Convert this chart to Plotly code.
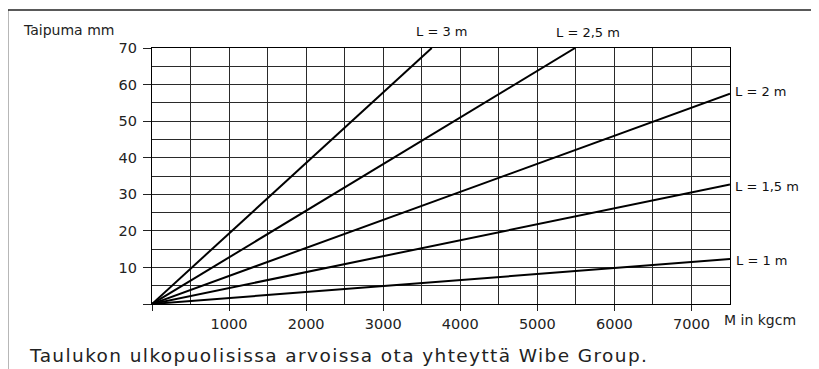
import plotly.graph_objects as go

# ---- data ----
lengths = ["L = 3 m", "L = 2,5 m", "L = 2 m", "L = 1,5 m", "L = 1 m"]
m_start = [0, 0, 0, 0, 0]
m_end = [3630, 5490, 7500, 7500, 7500]          # M in kgcm at line end
defl_start = [0, 0, 0, 0, 0]
defl_end = [70, 70, 57.5, 32.7, 12.3]           # Taipuma mm at line end
x_ticks = [0, 1000, 2000, 3000, 4000, 5000, 6000, 7000]
x_ticktext = ["", "1000", "2000", "3000", "4000", "5000", "6000", "7000"]
y_ticks = [0, 10, 20, 30, 40, 50, 60, 70]
y_ticktext = ["", "10", "20", "30", "40", "50", "60", "70"]
y_title = "Taipuma mm"
x_title = "M in kgcm"
footer = "Taulukon ulkopuolisissa arvoissa ota yhteyttä Wibe Group."

# page has an 8px body margin -> work in shifted pixel coordinates
OFF = 8
W, H = 819 - OFF, 369 - OFF
L, R, T, B = 151.7 - OFF, 730 - OFF, 48 - OFF, 304 - OFF

fig = go.Figure()
for i, name in enumerate(lengths):
    fig.add_trace(go.Scatter(
        x=[m_start[i], m_end[i]], y=[defl_start[i], defl_end[i]],
        mode="lines", line=dict(color="#000000", width=2),
        name=name, showlegend=False, hoverinfo="skip"))

grid = "#2a2a2a"
tick_font = dict(family="DejaVu Sans", size=14.5, color="#222")
fig.update_xaxes(range=[0, 7500], tickvals=x_ticks, ticktext=x_ticktext,
                 showgrid=True, gridcolor=grid, gridwidth=1.2,
                 minor=dict(dtick=500, tick0=0, showgrid=True, gridcolor=grid, gridwidth=1.2),
                 ticks="outside", ticklen=6, tickwidth=1.2, tickcolor="#222",
                 showline=True, linecolor="#000", linewidth=1.3, mirror=True,
                 zeroline=False, tickfont=tick_font)
fig.update_yaxes(range=[0, 70], tickvals=y_ticks, ticktext=y_ticktext,
                 showgrid=True, gridcolor=grid, gridwidth=1.2,
                 minor=dict(dtick=5, tick0=0, showgrid=True, gridcolor=grid, gridwidth=1.2),
                 ticks="outside", ticklen=8, tickwidth=1.2, tickcolor="#222",
                 showline=True, linecolor="#000", linewidth=1.3, mirror=True,
                 zeroline=False, ticklabelstandoff=3, tickfont=tick_font)

def px(x):
    return (x - OFF - L) / (R - L)

def py(y):
    return (B - (y - OFF)) / (B - T)

lab_font = dict(family="DejaVu Sans", size=13, color="#111")
annots = [
    dict(x=3750, y=70, xref="x", yref="y", text=lengths[0], xanchor="center",
         yanchor="middle", yshift=16.5, showarrow=False, font=lab_font),
    dict(x=5660, y=70, xref="x", yref="y", text=lengths[1], xanchor="center",
         yanchor="middle", yshift=16, showarrow=False, font=lab_font),
    dict(x=7500, y=defl_end[2], xref="x", yref="y", text=lengths[2], xanchor="left",
         yanchor="middle", xshift=3, yshift=2, showarrow=False, font=lab_font),
    dict(x=7500, y=defl_end[3], xref="x", yref="y", text=lengths[3], xanchor="left",
         yanchor="middle", xshift=3, yshift=-2, showarrow=False, font=lab_font),
    dict(x=7500, y=defl_end[4], xref="x", yref="y", text=lengths[4], xanchor="left",
         yanchor="middle", xshift=4, yshift=-1.5, showarrow=False, font=lab_font),
    dict(x=px(722), y=py(320), xref="paper", yref="paper", text=x_title,
         xanchor="left", yanchor="middle", showarrow=False,
         font=dict(family="DejaVu Sans", size=14, color="#222")),
    dict(x=px(21), y=py(29.5), xref="paper", yref="paper", text=y_title,
         xanchor="left", yanchor="middle", showarrow=False,
         font=dict(family="DejaVu Sans", size=14, color="#222")),
    dict(x=px(27), y=py(355), xref="paper", yref="paper",
         text='<span style="letter-spacing:1.4px">' + footer + '</span>',
         xanchor="left", yanchor="middle", showarrow=False,
         font=dict(family="DejaVu Sans", size=18.5, color="#222")),
]

shapes = [
    dict(type="line", xref="paper", yref="paper", x0=px(7.3), x1=px(819), y0=py(10), y1=py(10),
         line=dict(color="#222", width=1.3)),
    dict(type="line", xref="paper", yref="paper", x0=px(7.3), x1=px(7.3), y0=py(10), y1=py(369),
         line=dict(color="#222", width=1.3)),
]

fig.update_layout(width=W, height=H,
                  margin=dict(l=L, r=W - R, t=T, b=H - B, autoexpand=False),
                  paper_bgcolor="white", plot_bgcolor="white",
                  annotations=annots, shapes=shapes)

fig.write_html("out.html")
